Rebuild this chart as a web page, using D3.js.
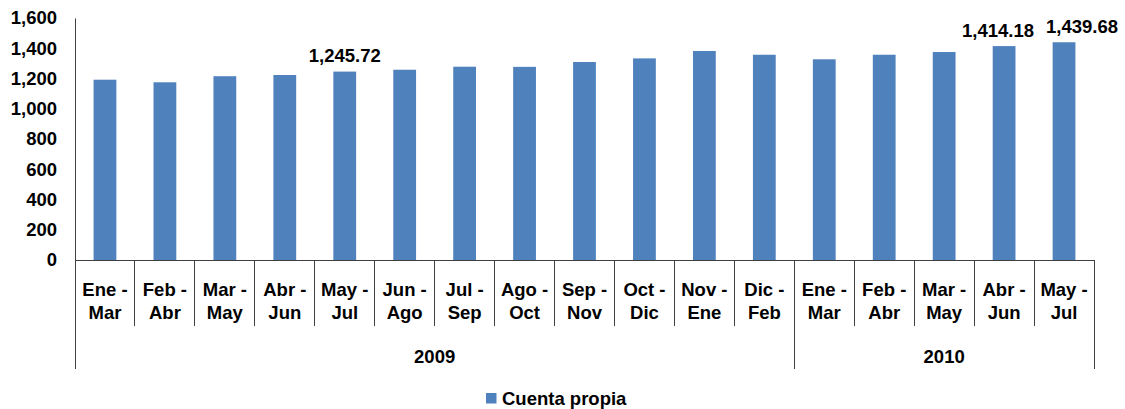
<!DOCTYPE html>
<html>
<head>
<meta charset="utf-8">
<script src="https://d3js.org/d3.v7.min.js"></script>
<style>
body { margin: 0; background: #fff; }
text { font-family: "Liberation Sans", Arial, sans-serif; font-weight: bold; fill: #000; }
</style>
</head>
<body>
<script>
// data
var categories = ["Ene - Mar", "Feb - Abr", "Mar - May", "Abr - Jun", "May - Jul", "Jun - Ago",
  "Jul - Sep", "Ago - Oct", "Sep - Nov", "Oct - Dic", "Nov - Ene", "Dic - Feb",
  "Ene - Mar", "Feb - Abr", "Mar - May", "Abr - Jun", "May - Jul"];
var values = [1192, 1175, 1215, 1223, 1245.72, 1258, 1278, 1277, 1309, 1333, 1382, 1357,
  1327, 1357, 1375, 1414.18, 1439.68];
var labelIdx = [4, 15, 16];
var years = ["2009", "2010"];
var yearCounts = [12, 5];
var yTicks = [0, 200, 400, 600, 800, 1000, 1200, 1400, 1600];
var seriesName = "Cuenta propia";

function draw() {
  var W = 1125, H = 409;
  var pLeft = 75, pRight = 1094, pTop = 18, pBottom = 260;
  var axisCol = "#404040", barCol = "#4F81BD";
  // the last two labels were nudged apart by hand in the original
  var labelDx = { 15: -6, 16: 18 };

  var svg = d3.select("body").append("svg")
    .attr("width", W).attr("height", H);

  var keys = categories.map(function(d, i) { return i; });

  var x = d3.scaleBand().domain(keys).range([pLeft, pRight])
    .paddingInner(0.62).paddingOuter(0.31);
  var y = d3.scaleLinear().domain([0, 1600]).range([pBottom, pTop]);

  // y axis
  var yAxis = svg.append("g")
    .attr("transform", "translate(" + pLeft + ",0)")
    .call(d3.axisLeft(y).tickValues(yTicks).tickSize(0).tickPadding(18).tickFormat(d3.format(",")));
  yAxis.select(".domain").attr("stroke", axisCol);
  yAxis.selectAll("text").style("font-size", "18.5px")
    .style("font-family", "'Liberation Sans', Arial, sans-serif").style("font-weight", "bold")
    .attr("fill", "#000");

  // bars
  svg.append("g").selectAll("rect")
    .data(values)
    .enter().append("rect")
    .attr("x", function(d, i) { return x(i); })
    .attr("width", x.bandwidth())
    .attr("y", function(d) { return y(d); })
    .attr("height", function(d) { return y(0) - y(d); })
    .attr("fill", barCol);

  // data labels
  svg.append("g").selectAll("text")
    .data(labelIdx)
    .enter().append("text")
    .attr("x", function(i) { return x(i) + x.bandwidth() / 2 + (labelDx[i] || 0); })
    .attr("y", function(i) { return y(values[i]) - 9.5; })
    .attr("text-anchor", "middle")
    .style("font-size", "18.5px")
    .text(function(i) { return d3.format(",.2f")(values[i]); });

  // category axis with two levels
  var step = x.step();
  var edge = function(i) { return x(i) - x.paddingInner() * step / 2; };
  var g = svg.append("g").attr("stroke", axisCol).attr("stroke-width", 1).attr("shape-rendering", "crispEdges");
  g.append("line").attr("x1", pLeft).attr("x2", pRight).attr("y1", pBottom).attr("y2", pBottom);

  var yearStarts = [0];
  yearCounts.forEach(function(c, i) { yearStarts.push(yearStarts[i] + c); });

  for (var i = 0; i <= categories.length; i++) {
    var xe = i < categories.length ? edge(i) : pRight;
    var isYearEdge = yearStarts.indexOf(i) >= 0;
    g.append("line").attr("x1", xe).attr("x2", xe)
      .attr("y1", pBottom).attr("y2", isYearEdge ? 369 : 326);
  }

  var catLabels = svg.append("g").selectAll("text")
    .data(categories)
    .enter().append("text")
    .attr("text-anchor", "middle")
    .style("font-size", "18.5px")
    .attr("transform", function(d, i) { return "translate(" + (x(i) + x.bandwidth() / 2) + ",0)"; });
  catLabels.append("tspan").attr("x", 0).attr("y", 296)
    .text(function(d) { return d.split(" - ")[0] + " -"; });
  catLabels.append("tspan").attr("x", 0).attr("y", 318.5)
    .text(function(d) { return d.split(" - ")[1]; });

  svg.append("g").selectAll("text")
    .data(years)
    .enter().append("text")
    .attr("text-anchor", "middle")
    .attr("x", function(d, i) {
      var a = edge(yearStarts[i]);
      var b = yearStarts[i + 1] < categories.length ? edge(yearStarts[i + 1]) : pRight;
      return (a + b) / 2;
    })
    .attr("y", 362.5)
    .style("font-size", "18.5px")
    .text(function(d) { return d; });

  // legend
  var legend = svg.append("g").attr("transform", "translate(486,393)");
  legend.append("rect").attr("width", 10.5).attr("height", 10.5).attr("fill", barCol);
  legend.append("text").attr("x", 16).attr("y", 12).style("font-size", "18.5px").text(seriesName);
}
draw();
</script>
</body>
</html>
